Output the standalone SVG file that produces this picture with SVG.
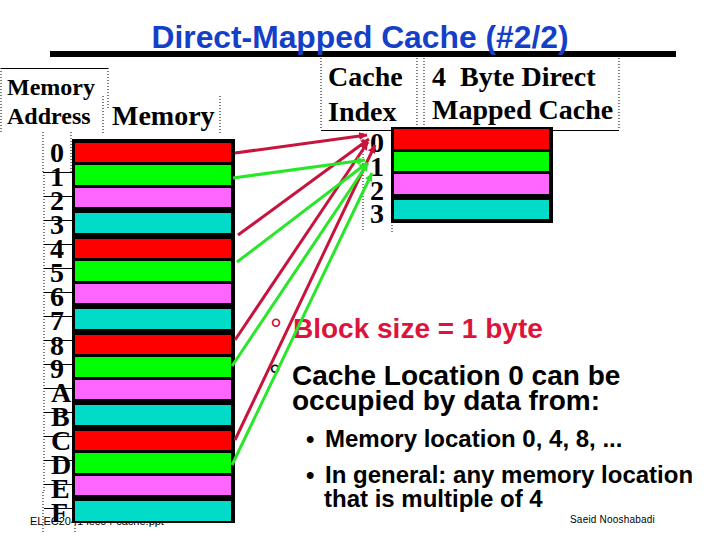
<svg xmlns="http://www.w3.org/2000/svg" width="720" height="540" viewBox="0 0 720 540">
<style>
.s{font-family:"Liberation Serif",serif;font-weight:bold;fill:#000}
.a{font-family:"Liberation Sans",sans-serif;font-weight:bold;fill:#000}
.f{font-family:"Liberation Sans",sans-serif;fill:#000}
.d{fill:none;stroke:#000;stroke-width:1;stroke-dasharray:1 2}
.t{fill:none;stroke:#000;stroke-width:1}
.r{fill:#ff0000}.g{fill:#00ff00}.p{fill:#ff66ff}.c{fill:#00dcc8}
.cr{fill:none;stroke:#c8143c;stroke-width:3;marker-end:url(#mr)}
.cg{fill:none;stroke:#28e628;stroke-width:3;marker-end:url(#mg)}
</style>
<defs>
<marker id="mr" markerUnits="userSpaceOnUse" markerWidth="10" markerHeight="10" refX="8" refY="4" orient="auto"><path d="M0 0L8 4L0 8z" fill="#c8143c"/></marker>
<marker id="mg" markerUnits="userSpaceOnUse" markerWidth="10" markerHeight="10" refX="8" refY="4" orient="auto"><path d="M0 0L8 4L0 8z" fill="#28e628"/></marker>
</defs>
<rect width="720" height="540" fill="#fff"/>
<g id="title"><rect x="50" y="51" width="626" height="6" fill="#000"/><text x="360" y="48" text-anchor="middle" font-family="Liberation Sans" font-weight="bold" font-size="31.800" fill="#1440c8">Direct-Mapped Cache (#2/2)</text></g>
<g id="memory-address-label"><path class="d" d="M1 68V132M108 68V108"/><path class="t" d="M1 68.500H108"/><text class="s" font-size="24" x="7" y="95">Memory</text><text class="s" font-size="24" x="7" y="124">Address</text></g>
<g id="memory-label"><path class="d" d="M103 96V134M220 96V134"/><text class="s" font-size="28" x="112" y="125">Memory</text></g>
<g id="addresses" class="s" font-size="28"><path class="d" d="M43 132V172M44 172V492M43 492V532M71 132V172M75 492V532"/><text x="50" y="162">0</text><text x="50" y="186">1</text><text x="50" y="210">2</text><text x="50" y="234">3</text><text x="50" y="258">4</text><text x="50" y="282">5</text><text x="50" y="306">6</text><text x="50" y="330">7</text><text x="50" y="355">8</text><text x="50" y="378">9</text><text x="51" y="402">A</text><text x="51" y="426">B</text><text x="51" y="450">C</text><text x="51" y="474">D</text><text x="51" y="498">E</text><text x="51" y="522">F</text><path class="t" d="M43 172.500H72M44 196.500H72M44 220.500H72M44 244.500H72M44 268.500H72M44 292.500H72M44 316.500H72M44 340.500H72M44 364.500H72M44 388.500H72M44 412.500H72M44 436.500H72M44 460.500H72M44 484.500H72M44 508.500H72"/></g>
<g id="footer"><text x="30" y="525" class="f" font-size="11">ELEC2041 lec04-cache.ppt</text><text x="570" y="523" class="f" font-size="10" letter-spacing="0.2">Saeid Nooshabadi</text></g>
<g id="memory-block"><rect x="72" y="139" width="163" height="384" fill="#000"/><rect class="r" x="75" y="143" width="156" height="19"/><rect class="g" x="75" y="165" width="156" height="20"/><rect class="p" x="75" y="188" width="156" height="19"/><rect class="c" x="75" y="213" width="156" height="20"/><rect class="r" x="75" y="239" width="156" height="19"/><rect class="g" x="75" y="261" width="156" height="20"/><rect class="p" x="75" y="284" width="156" height="19"/><rect class="c" x="75" y="309" width="156" height="20"/><rect class="r" x="75" y="335" width="156" height="19"/><rect class="g" x="75" y="357" width="156" height="20"/><rect class="p" x="75" y="380" width="156" height="19"/><rect class="c" x="75" y="405" width="156" height="20"/><rect class="r" x="75" y="431" width="156" height="19"/><rect class="g" x="75" y="453" width="156" height="20"/><rect class="p" x="75" y="476" width="156" height="19"/><rect class="c" x="75" y="501" width="156" height="20"/></g>
<g id="cache-index-label"><path class="d" d="M321 58V130M417 58V130"/><path class="t" d="M321 130.500H417"/><text class="s" font-size="28" x="328" y="86">Cache</text><text class="s" font-size="28" x="328" y="121">Index</text></g>
<g id="cache-title"><path class="d" d="M424 58V130M619 58V130"/><path class="t" d="M424 130.500H619"/><text class="s" font-size="28" x="432" y="86" xml:space="preserve">4  Byte Direct</text><text class="s" font-size="28" x="432" y="119">Mapped Cache</text></g>
<g id="cache-indices" class="s" font-size="28"><path class="d" d="M363 130V232M392 222V232"/><text x="370" y="152">0</text><text x="370" y="176">1</text><text x="370" y="200">2</text><text x="370" y="223">3</text></g>
<g id="cache-block"><rect x="391" y="127" width="162" height="96" fill="#000"/><rect class="r" x="394" y="129" width="155" height="20"/><rect class="g" x="394" y="152" width="155" height="19"/><rect class="p" x="394" y="174" width="155" height="20"/><rect class="c" x="394" y="200" width="155" height="19"/></g>
<g id="bullets"><text x="270" y="339" class="f" font-size="30" style="fill:#c8143c">°</text><text x="293" y="338" class="a" font-size="28" style="fill:#dc143c">Block size = 1 byte</text><text x="269" y="385" class="f" font-size="30">°</text><text x="292" y="385" class="a" font-size="28">Cache Location 0 can be</text><text x="292" y="410" class="a" font-size="28">occupied by data from:</text><text x="306" y="447" class="a" font-size="24">•</text><text x="325" y="447" class="a" font-size="24">Memory location 0, 4, 8, ...</text><text x="306" y="483" class="a" font-size="24">•</text><text x="325" y="483" class="a" font-size="24">In general: any memory location</text><text x="324" y="507" class="a" font-size="24">that is multiple of 4</text></g>
<g id="connectors"><path class="cr" d="M235 153L367 135"/><path class="cr" d="M238 235L369 139"/><path class="cr" d="M235 340L368 142"/><path class="cr" d="M235 440L375 145"/><path class="cg" d="M233 178L365 160"/><path class="cg" d="M237 262L367 163"/><path class="cg" d="M232 366L368 163"/><path class="cg" d="M232 465L372 173"/></g>
</svg>
